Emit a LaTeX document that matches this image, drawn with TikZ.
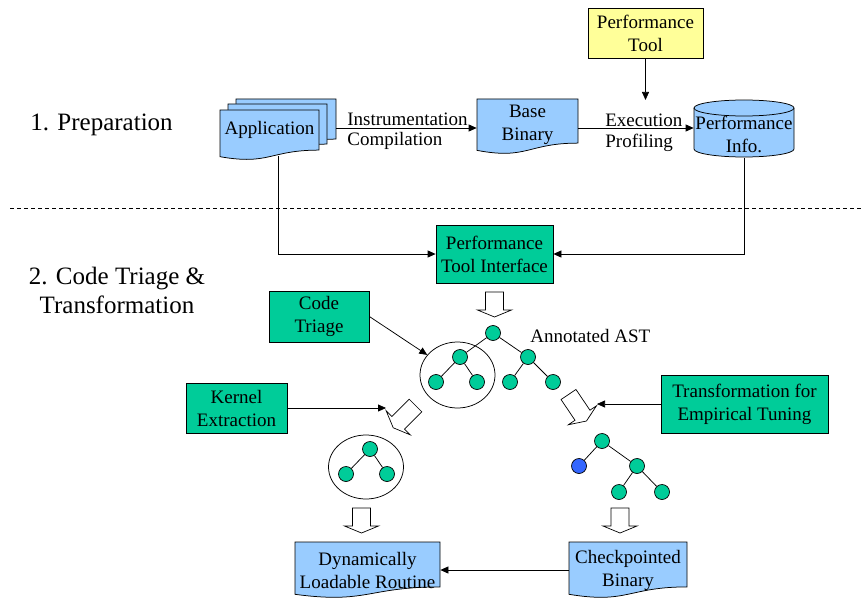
\documentclass[tikz,border=0pt]{standalone}
\usepackage{fontspec}
\setmainfont{Liberation Serif}
\usetikzlibrary{arrows.meta,shapes.geometric}
\definecolor{docblue}{HTML}{99CCFF}
\definecolor{tgreen}{HTML}{00CC99}
\definecolor{tyellow}{HTML}{FFFF99}
\definecolor{nblue}{HTML}{3366FF}
\newcommand\mydoc[4]{\draw[docfill] (#1,#2) -- ({#1+#3},#2) -- ({#1+#3},{#2+0.802*#4}) .. controls ({#1+0.5*#3},{#2+0.802*#4}) and ({#1+0.5*#3},{#2+1.108*#4}) .. (#1,{#2+0.934*#4}) -- cycle;}
\newcommand\blockarr[4]{\draw[hollow, shift={(#1,#2)}, rotate=#3] (-9,0) -- (9,0) -- (9,#4) -- (17,#4) -- (0,{#4+7}) -- (-17,#4) -- (-9,#4) -- cycle;}
\begin{document}
\begin{tikzpicture}[x=1pt,y=-1pt,line width=0.75pt,
  txt/.style={font=\fontsize{19}{23}\selectfont, align=center, inner sep=0pt},
  headtxt/.style={font=\fontsize{25}{29}\selectfont, align=center, inner sep=0pt},
  greenbox/.style={txt, draw, fill=tgreen},
  yellowbox/.style={txt, draw, fill=tyellow},
  docfill/.style={draw, fill=docblue},
  hollow/.style={draw, fill=white, line width=0.7pt},
  conn/.style={-{Triangle[length=8pt,width=7pt]}},
  tn/.style={circle, draw, fill=tgreen, minimum size=15pt, inner sep=0pt, line width=0.7pt},
  ring/.style={ellipse, draw, inner sep=0pt}]
\useasboundingbox (0,0) rectangle (861,599);

% headings
\node[headtxt, anchor=west] (h1) at (30,125) {1. Preparation};
\node[headtxt] (h2) at (117,290) {2. Code Triage \&\\Transformation};
\draw[line width=0.6pt, dash pattern=on 4pt off 3pt] (10,208) -- (861,208);

% Application stack
\mydoc{236}{99}{100}{50}
\mydoc{228}{104}{99}{50}
\mydoc{220}{110}{99}{50}
\node[txt, minimum width=99pt, minimum height=40pt] (app) at (269.5,130) {Application};
\coordinate (appback) at (336,128);
\coordinate (appfoot) at (278,156);

% Base Binary
\mydoc{477}{99}{101}{55}
\node[txt, minimum width=101pt, minimum height=50pt] (bb) at (527.5,125) {Base\\Binary};
\coordinate (bbright) at (578,128);

% Performance Tool
\node[yellowbox, minimum width=115pt, minimum height=50pt] (pt) at (645.5,33) {Performance\\Tool};
\coordinate (ptend) at (645.5,100);

% Cylinder
\draw[docfill] (694,108) -- (694,149) arc[start angle=180, end angle=0, x radius=50, y radius=8] -- (794,108);
\draw[docfill] (744,108) ellipse[x radius=50, y radius=8];
\node[minimum width=100pt, minimum height=58pt, inner sep=0pt] (cyl) at (744,129) {};
\node[txt] (cyltext) at (744,134) {Performance\\Info.};

% top connectors
\draw[conn] (appback) -- (bb.west |- appback);
\node[txt, anchor=west] (instr) at (347,119) {Instrumentation};
\node[txt, anchor=west] (compil) at (347,141) {Compilation};
\draw[conn] (bbright) -- (cyl.west |- bbright);
\node[txt, anchor=west] (exec) at (605,120) {Execution};
\node[txt, anchor=west] (prof) at (605,143) {Profiling};
\draw[conn] (pt.south) -- (ptend);

% Performance Tool Interface
\node[greenbox, minimum width=117pt, minimum height=58pt] (pti) at (494.5,254) {Performance\\Tool Interface};
\draw[conn] (appfoot) |- (pti.west);
\draw[conn] (cyl.south) |- (pti.east);

\blockarr{494.5}{292}{0}{18}

% Code triage and tree 1
\node[greenbox, minimum width=100pt, minimum height=51pt] (ct) at (319,316.5) {Code\\Triage};
\node[ring, minimum width=75pt, minimum height=66pt] (c1) at (457.5,375) {};
\node[tn] (t1r) at (493,333) {};
\node[tn] (t1a) at (460,357) {};
\node[tn] (t1b) at (528,357) {};
\node[tn] (t1c) at (436,382) {};
\node[tn] (t1d) at (477,382) {};
\node[tn] (t1e) at (510,382) {};
\node[tn] (t1f) at (553,382) {};
\draw (t1r) -- (t1a); \draw (t1r) -- (t1b);
\draw (t1a) -- (t1c); \draw (t1a) -- (t1d);
\draw (t1b) -- (t1e); \draw (t1b) -- (t1f);
\draw[conn] (ct.east) -- (c1);
\node[txt, anchor=west] (ast) at (530,336) {Annotated AST};

% Kernel extraction
\node[greenbox, minimum width=101pt, minimum height=50pt] (ke) at (236.5,408) {Kernel\\Extraction};
\blockarr{415.5}{405.5}{-45}{24.5}
\coordinate (ba1) at (386,408);
\draw[conn] (ke.east) -- (ba1);

\node[ring, minimum width=75pt, minimum height=64pt] (c2) at (366,467) {};
\node[tn] (t2r) at (370,449) {};
\node[tn] (t2a) at (346,474) {};
\node[tn] (t2b) at (387,474) {};
\draw (t2r) -- (t2a); \draw (t2r) -- (t2b);
\blockarr{361.5}{508}{0}{18}

% Transformation
\node[greenbox, minimum width=167pt, minimum height=58pt] (te) at (744.5,404) {Transformation for\\Empirical Tuning};
\blockarr{568.5}{394.5}{34}{25}
\coordinate (ba2) at (597,404);
\draw[conn] (te.west) -- (ba2);

\node[tn] (t3r) at (602,441) {};
\node[tn, fill=nblue] (t3a) at (579,466) {};
\node[tn] (t3b) at (637,466) {};
\node[tn] (t3c) at (619,492) {};
\node[tn] (t3d) at (662,492) {};
\draw (t3r) -- (t3a); \draw (t3r) -- (t3b);
\draw (t3b) -- (t3c); \draw (t3b) -- (t3d);
\blockarr{620}{508}{0}{18}

% bottom documents
\mydoc{295}{542}{145}{56}
\node[txt, minimum width=145pt, minimum height=56pt] (dlr) at (367.5,570) {Dynamically\\Loadable Routine};
\mydoc{569}{542}{118}{56}
\node[txt, minimum width=118pt, minimum height=56pt] (cb) at (628,570) {Checkpointed\\Binary};
\draw[conn] (cb.west) -- (dlr.east);
\end{tikzpicture}
\end{document}
